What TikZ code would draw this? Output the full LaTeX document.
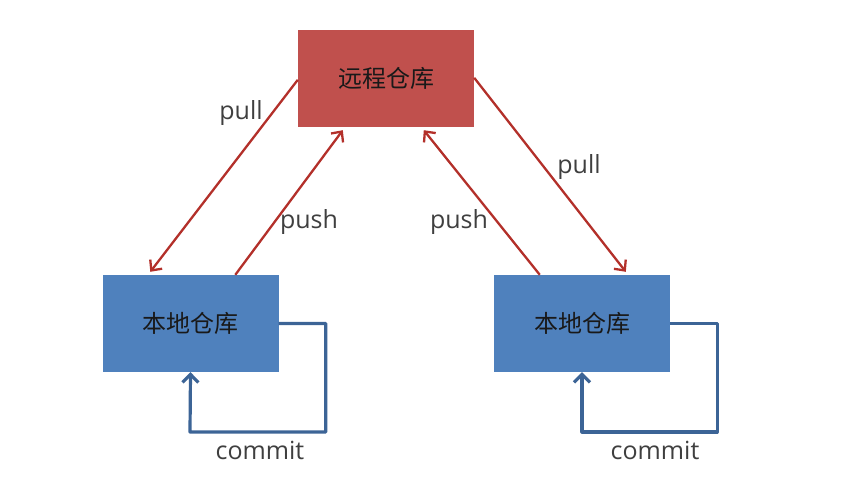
\documentclass[tikz,border=0pt]{standalone}
\usepackage{fontspec}
\setmainfont{Open Sans}
\newfontfamily\cjk{Noto Sans CJK SC}
\usetikzlibrary{arrows.meta,calc}
\definecolor{remoteRed}{HTML}{C0504D}
\definecolor{localBlue}{HTML}{4F81BD}
\definecolor{arrowRed}{HTML}{B3302A}
\definecolor{loopBlue}{HTML}{3C6496}
\definecolor{labelGray}{HTML}{3F3F3F}
\tikzset{
  repo/.style={minimum width=176pt,minimum height=97pt,inner sep=0pt,
    font=\cjk\fontsize{24}{28}\selectfont,text=black!90},
  remotebox/.style={repo,fill=remoteRed},
  localbox/.style={repo,fill=localBlue},
  syncarrow/.style={draw=arrowRed,line width=2.3pt,
    -{Straight Barb[length=8pt,width=15pt,line width=2.3pt]}},
  looparrow/.style={draw=loopBlue,line width=3.2pt,line join=round,
    -{Straight Barb[length=8pt,width=16pt,line width=3.2pt]}},
  lbl/.style={text=labelGray,font=\fontsize{25}{29}\selectfont,inner sep=0pt}
}
\begin{document}
\begin{tikzpicture}[x=1pt,y=-1pt]
\useasboundingbox (0,0) rectangle (866,489);
\node[remotebox] (remote) at (386,78.5) {远程仓库};
\node[localbox] (l1) at (190.5,323.5) {本地仓库};
\node[localbox] (l2) at (582,323.5) {本地仓库};
% left pull / push
\coordinate (p1s) at ($(remote.north west)+(0,50)$);
\coordinate (p1e) at ($(l1.north west)+(48,-3)$);
\draw[syncarrow] (p1s) -- (p1e);
\coordinate (u1s) at ($(l1.north west)+(133,0)$);
\coordinate (u1e) at ($(remote.south west)+(45,3)$);
\draw[syncarrow] (u1s) -- (u1e);
% right push / pull
\coordinate (u2s) at ($(l2.north west)+(46,0)$);
\coordinate (u2e) at ($(remote.south west)+(126,3)$);
\draw[syncarrow] (u2s) -- (u2e);
\coordinate (p2s) at ($(remote.north east)+(0,48)$);
\coordinate (p2e) at ($(l2.north west)+(132,-3)$);
\draw[syncarrow] (p2s) -- (p2e);
% commit loops
\draw[looparrow] (l1.east) -- ++(47,0) |- (190,432) -- (l1.south);
\draw[looparrow] (l2.east) -- ++(47,0) |- (582,432) -- (l2.south);
% labels
\node[lbl] (t1) at (241,113) {pull};
\node[lbl] (t2) at (309,222) {push};
\node[lbl] (t3) at (459,222) {push};
\node[lbl] (t4) at (579,167) {pull};
\node[lbl] (t5) at (260,450) {commit};
\node[lbl] (t6) at (655,450) {commit};
\end{tikzpicture}
\end{document}
